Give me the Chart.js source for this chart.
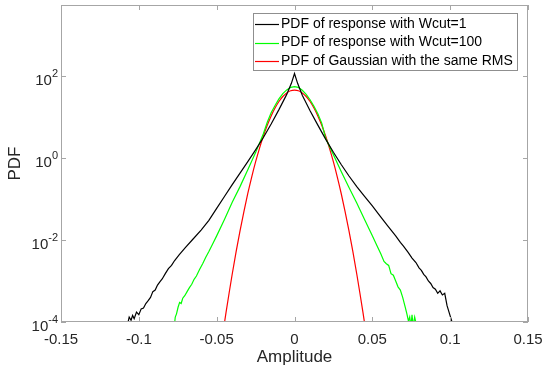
<!DOCTYPE html>
<html>
<head>
<meta charset="utf-8">
<script src="https://cdn.jsdelivr.net/npm/chart.js@4.4.1/dist/chart.umd.min.js"></script>
<style>
  html, body { margin: 0; padding: 0; background: #fff; }
  canvas { display: block; }
</style>
</head>
<body>
<canvas id="pdfChart" width="544" height="375"></canvas>
<script>
// amplitude ticks and decade ticks
const xTicks = [-0.15, -0.1, -0.05, 0, 0.05, 0.1, 0.15];
const xTickLabels = ['-0.15', '-0.1', '-0.05', '0', '0.05', '0.1', '0.15'];
const yTicks = [1e-4, 1e-2, 1, 1e2];
const yTickExp = ['-4', '-2', '0', '2'];

const seriesLabels = [
    'PDF of response with Wcut=1',
    'PDF of response with Wcut=100',
    'PDF of Gaussian with the same RMS'
];
const seriesColors = ['#000000', '#00ff00', '#ff0000'];

// Wcut=1 response
const xBlack = [-0.1075, -0.1062, -0.105, -0.104, -0.103, -0.1015, -0.1, -0.0985, -0.097, -0.0955,
    -0.094, -0.0925, -0.091, -0.0895, -0.088, -0.0865, -0.085, -0.083, -0.081, -0.079,
    -0.077, -0.074, -0.07, -0.065, -0.06, -0.055, -0.05, -0.045, -0.04, -0.035,
    -0.03, -0.025, -0.02, -0.015, -0.01, -0.005, -0.002, 0,
    0.002, 0.005, 0.01, 0.015, 0.02, 0.025, 0.03, 0.035, 0.04, 0.045,
    0.05, 0.055, 0.06, 0.065, 0.068, 0.07, 0.073, 0.0755, 0.078, 0.08,
    0.0815, 0.083, 0.0845, 0.086, 0.0875, 0.089, 0.0905, 0.092, 0.0935, 0.095,
    0.0965, 0.098, 0.1, 0.102];
const pdfBlack = [7.9e-5, 1.32e-4, 1.1e-4, 1.45e-4, 1.2e-4, 1.74e-4, 1.51e-4, 2.09e-4, 2.19e-4, 2.82e-4,
    3.31e-4, 3.98e-4, 5.5e-4, 6.03e-4, 7.94e-4, 9.55e-4, 1.12e-3, 1.51e-3, 2.0e-3, 2.4e-3,
    3.16e-3, 4.37e-3, 6.6e-3, 0.0107, 0.0174, 0.0302, 0.0589, 0.115, 0.224, 0.427,
    0.813, 1.58, 3.16, 6.76, 15.1, 35.5, 66.1, 115,
    66.1, 33.9, 14.1, 6.31, 2.88, 1.38, 0.692, 0.363, 0.2, 0.115,
    0.0676, 0.038, 0.0219, 0.0126, 8.7e-3, 7.1e-3, 5.0e-3, 3.63e-3, 2.82e-3, 2.09e-3,
    1.82e-3, 1.45e-3, 1.26e-3, 1.0e-3, 8.7e-4, 6.9e-4, 6.3e-4, 5.0e-4, 5.75e-4, 4.57e-4,
    5.0e-4, 2.5e-4, 1.41e-4, 7.9e-5];

// Wcut=100 response
const xGreen = [-0.0772, -0.0766, -0.0758, -0.0748, -0.0738, -0.0728, -0.0718, -0.0705, -0.069, -0.0675,
    -0.066, -0.0645, -0.063, -0.061, -0.059, -0.057, -0.055, -0.0525, -0.05, -0.045,
    -0.04, -0.035, -0.03, -0.025, -0.02, -0.0175, -0.015, -0.0125, -0.01, -0.0075,
    -0.005, -0.0025, 0,
    0.0025, 0.005, 0.0075, 0.01, 0.0125, 0.015, 0.0175, 0.02, 0.025, 0.03,
    0.035, 0.04, 0.045, 0.05, 0.053, 0.0555, 0.0575, 0.059, 0.0605, 0.062,
    0.0635, 0.065, 0.0665, 0.068, 0.0695, 0.071, 0.0722, 0.0732, 0.074, 0.0748,
    0.0755, 0.0762, 0.0772, 0.0785];
const pdfGreen = [7.9e-5, 1.32e-4, 1.58e-4, 2.29e-4, 3.0e-4, 2.82e-4, 3.8e-4, 4.37e-4, 5.5e-4, 6.9e-4,
    8.3e-4, 1.1e-3, 1.32e-3, 1.9e-3, 2.63e-3, 3.8e-3, 5.25e-3, 8.1e-3, 0.0126, 0.0316,
    0.0832, 0.2, 0.513, 1.35, 3.89, 7.41, 12.6, 19.1, 27.5, 37.2,
    45.7, 52.5, 55,
    52.5, 44.7, 35.5, 26.3, 18.2, 12.0, 7.08, 3.02, 1.2, 0.468,
    0.191, 0.0794, 0.0316, 0.0126, 7.2e-3, 4.57e-3, 3.0e-3, 2.63e-3, 2.4e-3, 1.51e-3,
    1.38e-3, 1.0e-3, 7.2e-4, 6.0e-4, 4.0e-4, 2.4e-4, 1.58e-4, 1.05e-4, 1.32e-4, 7.9e-5,
    1.5e-4, 7.9e-5, 1.32e-4, 7.9e-5];

// Gaussian with the same RMS
const xRed = [-0.046, -0.044, -0.042, -0.04, -0.0375, -0.035, -0.0325, -0.03, -0.0275, -0.025,
    -0.0225, -0.02, -0.0175, -0.015, -0.0125, -0.01, -0.0075, -0.005, -0.0025, 0,
    0.0025, 0.005, 0.0075, 0.01, 0.0125, 0.015, 0.0175, 0.02, 0.0225, 0.025,
    0.0275, 0.03, 0.0325, 0.035, 0.0375, 0.04, 0.042, 0.044, 0.046];
const pdfRed = [5.3e-5, 1.69e-4, 5.1e-4, 1.48e-3, 5.2e-3, 0.0166, 0.0494, 0.136, 0.343, 0.8,
    1.72, 3.42, 6.27, 10.6, 16.5, 23.8, 31.5, 38.5, 43.5, 45.3,
    43.5, 38.5, 31.5, 23.8, 16.5, 10.6, 6.27, 3.42, 1.72, 0.8,
    0.343, 0.136, 0.0494, 0.0166, 5.2e-3, 1.48e-3, 5.1e-4, 1.69e-4, 5.3e-5];

const FONT = '"Liberation Sans", Arial, Helvetica, sans-serif';
const toPoints = (xs, ys) => xs.map((x, i) => ({ x, y: ys[i] }));

// axes box, inward ticks, labels and legend in MATLAB style
const matlabAxes = {
    id: 'matlabAxes',
    afterDraw(chart) {
        const ctx = chart.ctx;
        const { left, right, top, bottom } = chart.chartArea;
        const xs = chart.scales.x, ys = chart.scales.y;
        const tl = 5;

        ctx.save();
        ctx.strokeStyle = '#a6a6a6';
        ctx.lineWidth = 1;
        ctx.strokeRect(left + 0.5, top + 0.5, right - left - 1, bottom - top - 1);

        ctx.beginPath();
        xTicks.forEach(v => {
            const px = Math.round(xs.getPixelForValue(v)) + 0.5;
            ctx.moveTo(px, bottom); ctx.lineTo(px, bottom - tl);
            ctx.moveTo(px, top); ctx.lineTo(px, top + tl);
        });
        yTicks.forEach(v => {
            const py = Math.round(ys.getPixelForValue(v)) + 0.5;
            ctx.moveTo(left, py); ctx.lineTo(left + tl, py);
            ctx.moveTo(right, py); ctx.lineTo(right - tl, py);
        });
        ctx.stroke();

        // tick labels
        ctx.fillStyle = '#262626';
        ctx.font = '15px ' + FONT;
        ctx.textAlign = 'center';
        ctx.textBaseline = 'middle';
        xTicks.forEach((v, i) => {
            ctx.fillText(xTickLabels[i], xs.getPixelForValue(v), bottom + 18);
        });

        yTicks.forEach((v, i) => {
            const py = ys.getPixelForValue(v);
            ctx.font = '11px ' + FONT;
            const ew = ctx.measureText(yTickExp[i]).width;
            ctx.textAlign = 'right';
            ctx.fillText(yTickExp[i], left - 3, py - 2);
            ctx.font = '15px ' + FONT;
            ctx.fillText('10', left - 3 - ew, py + 5);
        });

        // axis titles
        ctx.font = '17px ' + FONT;
        ctx.textAlign = 'center';
        ctx.fillText('Amplitude', (left + right) / 2, bottom + 35);
        ctx.translate(15, (top + bottom) / 2);
        ctx.rotate(-Math.PI / 2);
        ctx.fillText('PDF', 0, 0);
        ctx.restore();

        // legend
        ctx.save();
        const lx = 253, ly = 13, lw = 265, lh = 58;
        ctx.fillStyle = '#fff';
        ctx.fillRect(lx, ly, lw, lh);
        ctx.strokeStyle = '#8f8f8f';
        ctx.lineWidth = 1;
        ctx.strokeRect(lx + 0.5, ly + 0.5, lw - 1, lh - 1);
        ctx.font = '14px ' + FONT;
        ctx.textAlign = 'left';
        ctx.textBaseline = 'middle';
        seriesLabels.forEach((label, i) => {
            const ry = 24 + i * 18.5;
            ctx.strokeStyle = seriesColors[i];
            ctx.lineWidth = 1.2;
            ctx.beginPath();
            ctx.moveTo(255, Math.round(ry) + 0.5);
            ctx.lineTo(279, Math.round(ry) + 0.5);
            ctx.stroke();
            ctx.fillStyle = '#000';
            ctx.fillText(label, 281, ry);
        });
        ctx.restore();
    }
};

new Chart(document.getElementById('pdfChart'), {
    type: 'line',
    data: {
        datasets: [
            {
                label: seriesLabels[0],
                data: toPoints(xBlack, pdfBlack),
                borderColor: seriesColors[0],
                borderWidth: 1.2,
                pointRadius: 0,
                tension: 0
            },
            {
                label: seriesLabels[1],
                data: toPoints(xGreen, pdfGreen),
                borderColor: seriesColors[1],
                borderWidth: 1.2,
                pointRadius: 0,
                tension: 0
            },
            {
                label: seriesLabels[2],
                data: toPoints(xRed, pdfRed),
                borderColor: seriesColors[2],
                borderWidth: 1.2,
                pointRadius: 0,
                cubicInterpolationMode: 'monotone'
            }
        ]
    },
    options: {
        responsive: false,
        animation: false,
        devicePixelRatio: 1,
        layout: { padding: { left: 61, right: 16, top: 5, bottom: 53 } },
        plugins: {
            legend: { display: false },
            tooltip: { enabled: false }
        },
        scales: {
            x: { type: 'linear', min: -0.15, max: 0.15, display: false },
            y: { type: 'logarithmic', min: 1e-4, max: 5370, display: false }
        }
    },
    plugins: [matlabAxes]
});
</script>
</body>
</html>
